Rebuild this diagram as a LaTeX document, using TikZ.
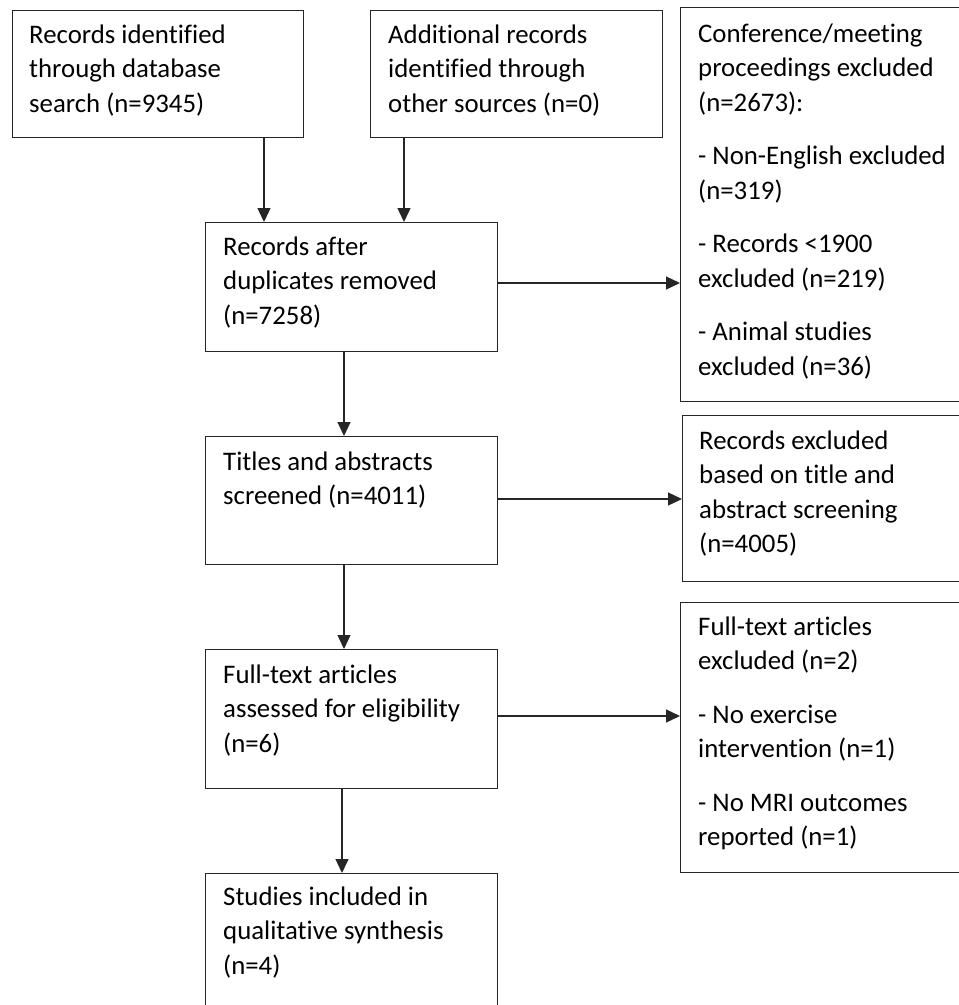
\documentclass[tikz,border=0pt]{standalone}
\usepackage{fontspec}
\setmainfont[RawFeature={-liga}]{Carlito}
\usetikzlibrary{arrows.meta,calc}
\tikzset{
  box/.style={draw=black!85, line width=1.3pt, anchor=north west, inner sep=0pt},
  txt/.style={anchor=base west, inner sep=0pt, font=\fontsize{26.8}{34.5}\selectfont, text=black},
  arr/.style={draw=black!85, line width=1.3pt, -{Triangle[length=14pt,width=13pt]}},
}
\begin{document}
\begin{tikzpicture}[x=1pt,y=-1pt]
\useasboundingbox (0,0) rectangle (959,1005);
\clip (0,0) rectangle (959,1005);
% boxes
\node[box, minimum width=291pt, minimum height=127pt] (b1) at (12,10) {};
\node[box, minimum width=292pt, minimum height=127pt] (b2) at (370,10) {};
\node[box, minimum width=300pt, minimum height=394pt] (b3) at (680,7) {};
\node[box, minimum width=292pt, minimum height=129pt] (b4) at (205,222) {};
\node[box, minimum width=292pt, minimum height=128pt] (b5) at (205,436) {};
\node[box, minimum width=300pt, minimum height=166pt] (b6) at (682,415) {};
\node[box, minimum width=292pt, minimum height=139pt] (b7) at (205,649) {};
\node[box, minimum width=300pt, minimum height=270pt] (b8) at (680,602) {};
\node[box, minimum width=292pt, minimum height=145pt] (b9) at (205,873) {};
% texts
\node[txt] (t1) at ($(b1.north west)+(17,33)$) {\parbox[t]{270pt}{Records identified\\through database\\search (n=9345)}};
\node[txt] (t2) at ($(b2.north west)+(18,33)$) {\parbox[t]{270pt}{Additional records\\identified through\\other sources (n=0)}};
\node[txt] (t3) at ($(b3.north west)+(18,35)$) {\parbox[t]{260pt}{Conference/meeting\\proceedings excluded\\(n=2673):\\[19pt]- Non-English excluded\\(n=319)\\[19pt]- Records <1900\\excluded (n=219)\\[19pt]- Animal studies\\excluded (n=36)}};
\node[txt] (t4) at ($(b4.north west)+(18,33)$) {\parbox[t]{270pt}{Records after\\duplicates removed\\(n=7258)}};
\node[txt] (t5) at ($(b5.north west)+(18,34)$) {\parbox[t]{270pt}{Titles and abstracts\\screened (n=4011)}};
\node[txt] (t6) at ($(b6.north west)+(17,34)$) {\parbox[t]{260pt}{Records excluded\\based on title and\\abstract screening\\(n=4005)}};
\node[txt] (t7) at ($(b7.north west)+(18,34)$) {\parbox[t]{270pt}{Full-text articles\\assessed for eligibility\\(n=6)}};
\node[txt] (t8) at ($(b8.north west)+(18,33)$) {\parbox[t]{260pt}{Full-text articles\\excluded (n=2)\\[19pt]- No exercise\\intervention (n=1)\\[19pt]- No MRI outcomes\\reported (n=1)}};
\node[txt] (t9) at ($(b9.north west)+(18,32)$) {\parbox[t]{270pt}{Studies included in\\qualitative synthesis\\(n=4)}};
% connector guides
\coordinate (x1) at (264,0);
\coordinate (x2) at (404,0);
\coordinate (x3) at (344,0);
\coordinate (x4) at (342,0);
\coordinate (y1) at (0,283);
\coordinate (y2) at (0,499);
\coordinate (y3) at (0,716);
% connectors
\draw[arr] (b1.south -| x1) -- (b4.north -| x1);
\draw[arr] (b2.south -| x2) -- (b4.north -| x2);
\draw[arr] (b4.east |- y1) -- (b3.west |- y1);
\draw[arr] (b4.south -| x3) -- (b5.north -| x3);
\draw[arr] (b5.east |- y2) -- (b6.west |- y2);
\draw[arr] (b5.south -| x3) -- (b7.north -| x3);
\draw[arr] (b7.east |- y3) -- (b8.west |- y3);
\draw[arr] (b7.south -| x4) -- (b9.north -| x4);
\end{tikzpicture}
\end{document}
